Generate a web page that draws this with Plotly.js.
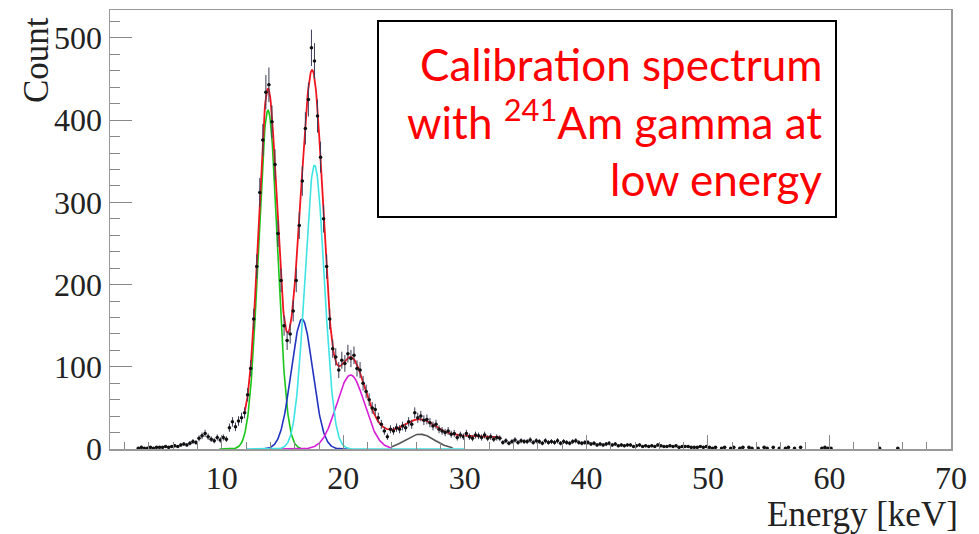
<!DOCTYPE html>
<html>
<head>
<meta charset="utf-8">
<script src="https://cdn.plot.ly/plotly-3.0.1.min.js"></script>
<style>
html,body{margin:0;padding:0;background:#fff;}
#chart{width:979px;height:534px;}
</style>
</head>
<body>
<div id="chart"></div>
<script>
// ---- Histogram data (Energy in keV, 0.25 keV bins starting at 3.0 keV) ----
const binStart = 3.0;
const binWidth = 0.25;
const counts = [
  1, 2, 1, 1,        // 3-4
  2, 1, 2, 2,        // 4-5
  2, 3, 2, 3,        // 5-6
  4, 3, 5, 6,        // 6-7
  5, 7, 9, 8,        // 7-8
  13, 16, 19, 15,    // 8-9
  12, 10, 14, 11,    // 9-10
  14, 12, 26, 33,    // 10-11
  27, 34, 38, 44,    // 11-12
  66, 98, 158, 222,  // 12-13
  312, 376, 434, 443,// 13-14
  398, 346, 262, 205,// 14-15
  150, 132, 140, 168,// 15-16
  205, 272, 326, 390,// 16-17
  425, 488, 472, 405,// 17-18
  355, 280, 222, 158,// 18-19
  122, 112, 96, 108, // 19-20
  104, 116, 110, 114,// 20-21
  98, 96, 80, 70,    // 21-22
  60, 50, 48, 38,    // 22-23
  30, 22, 15, 24,    // 23-24
  22, 26, 24, 28,    // 24-25
  26, 33, 30, 44,    // 25-26
  38, 40, 35, 36,    // 26-27
  32, 28, 30, 24,    // 27-28
  22, 20, 22, 18,    // 28-29
  19, 14, 17, 15,    // 29-30
  19, 15, 13, 17,    // 30-31
  16, 14, 17, 13,    // 31-32
  15, 12, 14, 13,    // 32-33
  8, 10, 7, 9,       // 33-34
  11, 8, 10, 9,      // 34-35
  9, 11, 8, 10,      // 35-36
  9, 7, 10, 8,       // 36-37
  9, 8, 10, 7,       // 37-38
  9, 8, 7, 9,        // 38-39
  10, 8, 7, 8,       // 39-40
  8, 6, 7, 5,        // 40-41
  6, 5, 6, 7,        // 41-42
  5, 6, 4, 5,        // 42-43
  4, 5, 5, 3,        // 43-44
  4, 5, 3, 4,        // 44-45
  3, 4, 3, 5,        // 45-46
  4, 3, 3, 4,        // 46-47
  3, 4, 2, 3,        // 47-48
  3, 3, 2, 2,        // 48-49
  2, 3, 2, 3,        // 49-50
  2, 1, 2, null,     // 50-51
  1, 2, null, 1,     // 51-52
  2, null, 1, 2,     // 52-53
  null, 2, 1, null,  // 53-54
  1, null, 2, 1,     // 54-55
  null, 2, null, 1,  // 55-56
  null, 1, 2, null,  // 56-57
  1, null, 2, null,  // 57-58
  null, null, null, null, // 58-59
  null, 1, 2, 1,     // 59-60
  1, null, null, null,    // 60-61
  null, null, null, null, // 61-62
  null, null, null, null, // 62-63
  null, null, null, null, // 63-64
  1, null, null, null,    // 64-65
  null, null, 1, null     // 65-66
];

// ---- Fit components (Gaussian peaks) ----
const peakColors = ['#19c619', '#2233c0', '#d81ed8', '#555555', '#3fe3e3'];
const peakAmp    = [412, 158, 90, 18, 345];
const peakMean   = [13.8, 16.6, 20.6, 26.3, 17.63];
const peakSigma  = [0.77, 0.88, 1.15, 1.2, 0.8];
const peakFrom   = [9.8, 13.5, 14.7, 24.0, 12.0];
const peakTo     = [16.5, 20.5, 24.0, 29.0, 30.0];
const bgConst = 33.5;
const bgSlope = -0.58;
const fitFrom = 11.9;
const fitTo = 32.9;

// tick labels
const xTicks = [10, 20, 30, 40, 50, 60, 70];
const yTicks = [0, 100, 200, 300, 400, 500];

const energy = counts.map((_, i) => binStart + binWidth * (i + 0.5));

function gauss(k, e) {
  const d = (e - peakMean[k]) / peakSigma[k];
  return peakAmp[k] * Math.exp(-0.5 * d * d);
}
function sampleRange(a, b) {
  const xs = [];
  const n = Math.round((b - a) / 0.04);
  for (let i = 0; i <= n; i++) xs.push(a + (b - a) * i / n);
  return xs;
}

const traces = [];
for (let k = 0; k < peakAmp.length; k++) {
  const xs = sampleRange(peakFrom[k], peakTo[k]);
  traces.push({
    x: xs, y: xs.map(e => gauss(k, e)), type: 'scatter', mode: 'lines',
    line: {color: peakColors[k], width: 1.6}, hoverinfo: 'skip', showlegend: false
  });
}
const xf = sampleRange(fitFrom, fitTo);
traces.push({
  x: xf,
  y: xf.map(e => {
    let s = bgConst + bgSlope * e;
    for (let k = 0; k < peakAmp.length; k++) s += gauss(k, e);
    return s;
  }),
  type: 'scatter', mode: 'lines', line: {color: '#f0141e', width: 1.8},
  hoverinfo: 'skip', showlegend: false
});
traces.push({
  x: energy, y: counts, type: 'scatter', mode: 'markers',
  marker: {color: '#111', size: 3.5, symbol: 'circle'},
  error_y: {type: 'sqrt', color: '#3c3c58', thickness: 1, width: 0},
  error_x: {type: 'constant', value: binWidth / 2, color: '#3c3c58', thickness: 1, width: 0},
  showlegend: false
});

const serif = 'Liberation Serif, Times New Roman, serif';
const layout = {
  width: 979, height: 534,
  margin: {l: 110, r: 28, t: 10, b: 85},
  paper_bgcolor: '#fff', plot_bgcolor: '#fff',
  showlegend: false,
  xaxis: {
    range: [0.8, 70], tickvals: xTicks, ticktext: xTicks.map(String),
    ticks: 'inside', ticklen: 14, tickwidth: 1, tickcolor: '#888',
    showline: true, linecolor: '#999', linewidth: 1.5, mirror: true,
    showgrid: false, zeroline: false,
    minor: {dtick: 2, tick0: 0, ticks: 'inside', ticklen: 7, tickcolor: '#888', showgrid: false},
    tickfont: {family: serif, size: 32, color: '#222'}
  },
  yaxis: {
    range: [0, 534], tickvals: yTicks, ticktext: yTicks.map(String),
    ticks: 'inside', ticklen: 22, tickwidth: 1, tickcolor: '#888',
    showline: true, linecolor: '#999', linewidth: 1.5, mirror: true,
    showgrid: false, zeroline: false,
    minor: {dtick: 20, tick0: 0, ticks: 'inside', ticklen: 10, tickcolor: '#888', showgrid: false},
    tickfont: {family: serif, size: 32, color: '#222'}
  },
  shapes: [{
    type: 'rect', xref: 'paper', yref: 'paper',
    x0: (378 - 110) / 841, x1: (836 - 110) / 841,
    y0: (449 - 217) / 439, y1: (449 - 21) / 439,
    line: {color: '#000', width: 2}, fillcolor: 'rgba(255,255,255,0)'
  }],
  annotations: [
    {text: 'Count', xref: 'paper', yref: 'paper', x: (36 - 110) / 841, y: (449 - 60) / 439, xanchor: 'center', yanchor: 'middle',
     textangle: -90, showarrow: false, font: {family: serif, size: 35, color: '#222'}},
    {text: 'Energy [keV]', xref: 'paper', yref: 'paper', x: (960 - 110) / 841, y: (449 - 514) / 439, xanchor: 'right', yanchor: 'middle',
     showarrow: false, font: {family: serif, size: 35, color: '#222'}},
    {text: 'Calibration spectrum', xref: 'paper', yref: 'paper', x: (824 - 110) / 841, y: (449 - 64) / 439,
     xanchor: 'right', yanchor: 'middle', showarrow: false, font: {family: 'Lato, sans-serif', size: 44, color: '#ff0000'}},
    {text: 'with <sup>241</sup>Am gamma at', xref: 'paper', yref: 'paper', x: (824 - 110) / 841, y: (449 - 120) / 439,
     xanchor: 'right', yanchor: 'middle', showarrow: false, font: {family: 'Lato, sans-serif', size: 44, color: '#ff0000'}},
    {text: 'low energy', xref: 'paper', yref: 'paper', x: (824 - 110) / 841, y: (449 - 179) / 439,
     xanchor: 'right', yanchor: 'middle', showarrow: false, font: {family: 'Lato, sans-serif', size: 44, color: '#ff0000'}}
  ]
};

Plotly.newPlot('chart', traces, layout, {staticPlot: true, displayModeBar: false});
</script>
</body>
</html>
